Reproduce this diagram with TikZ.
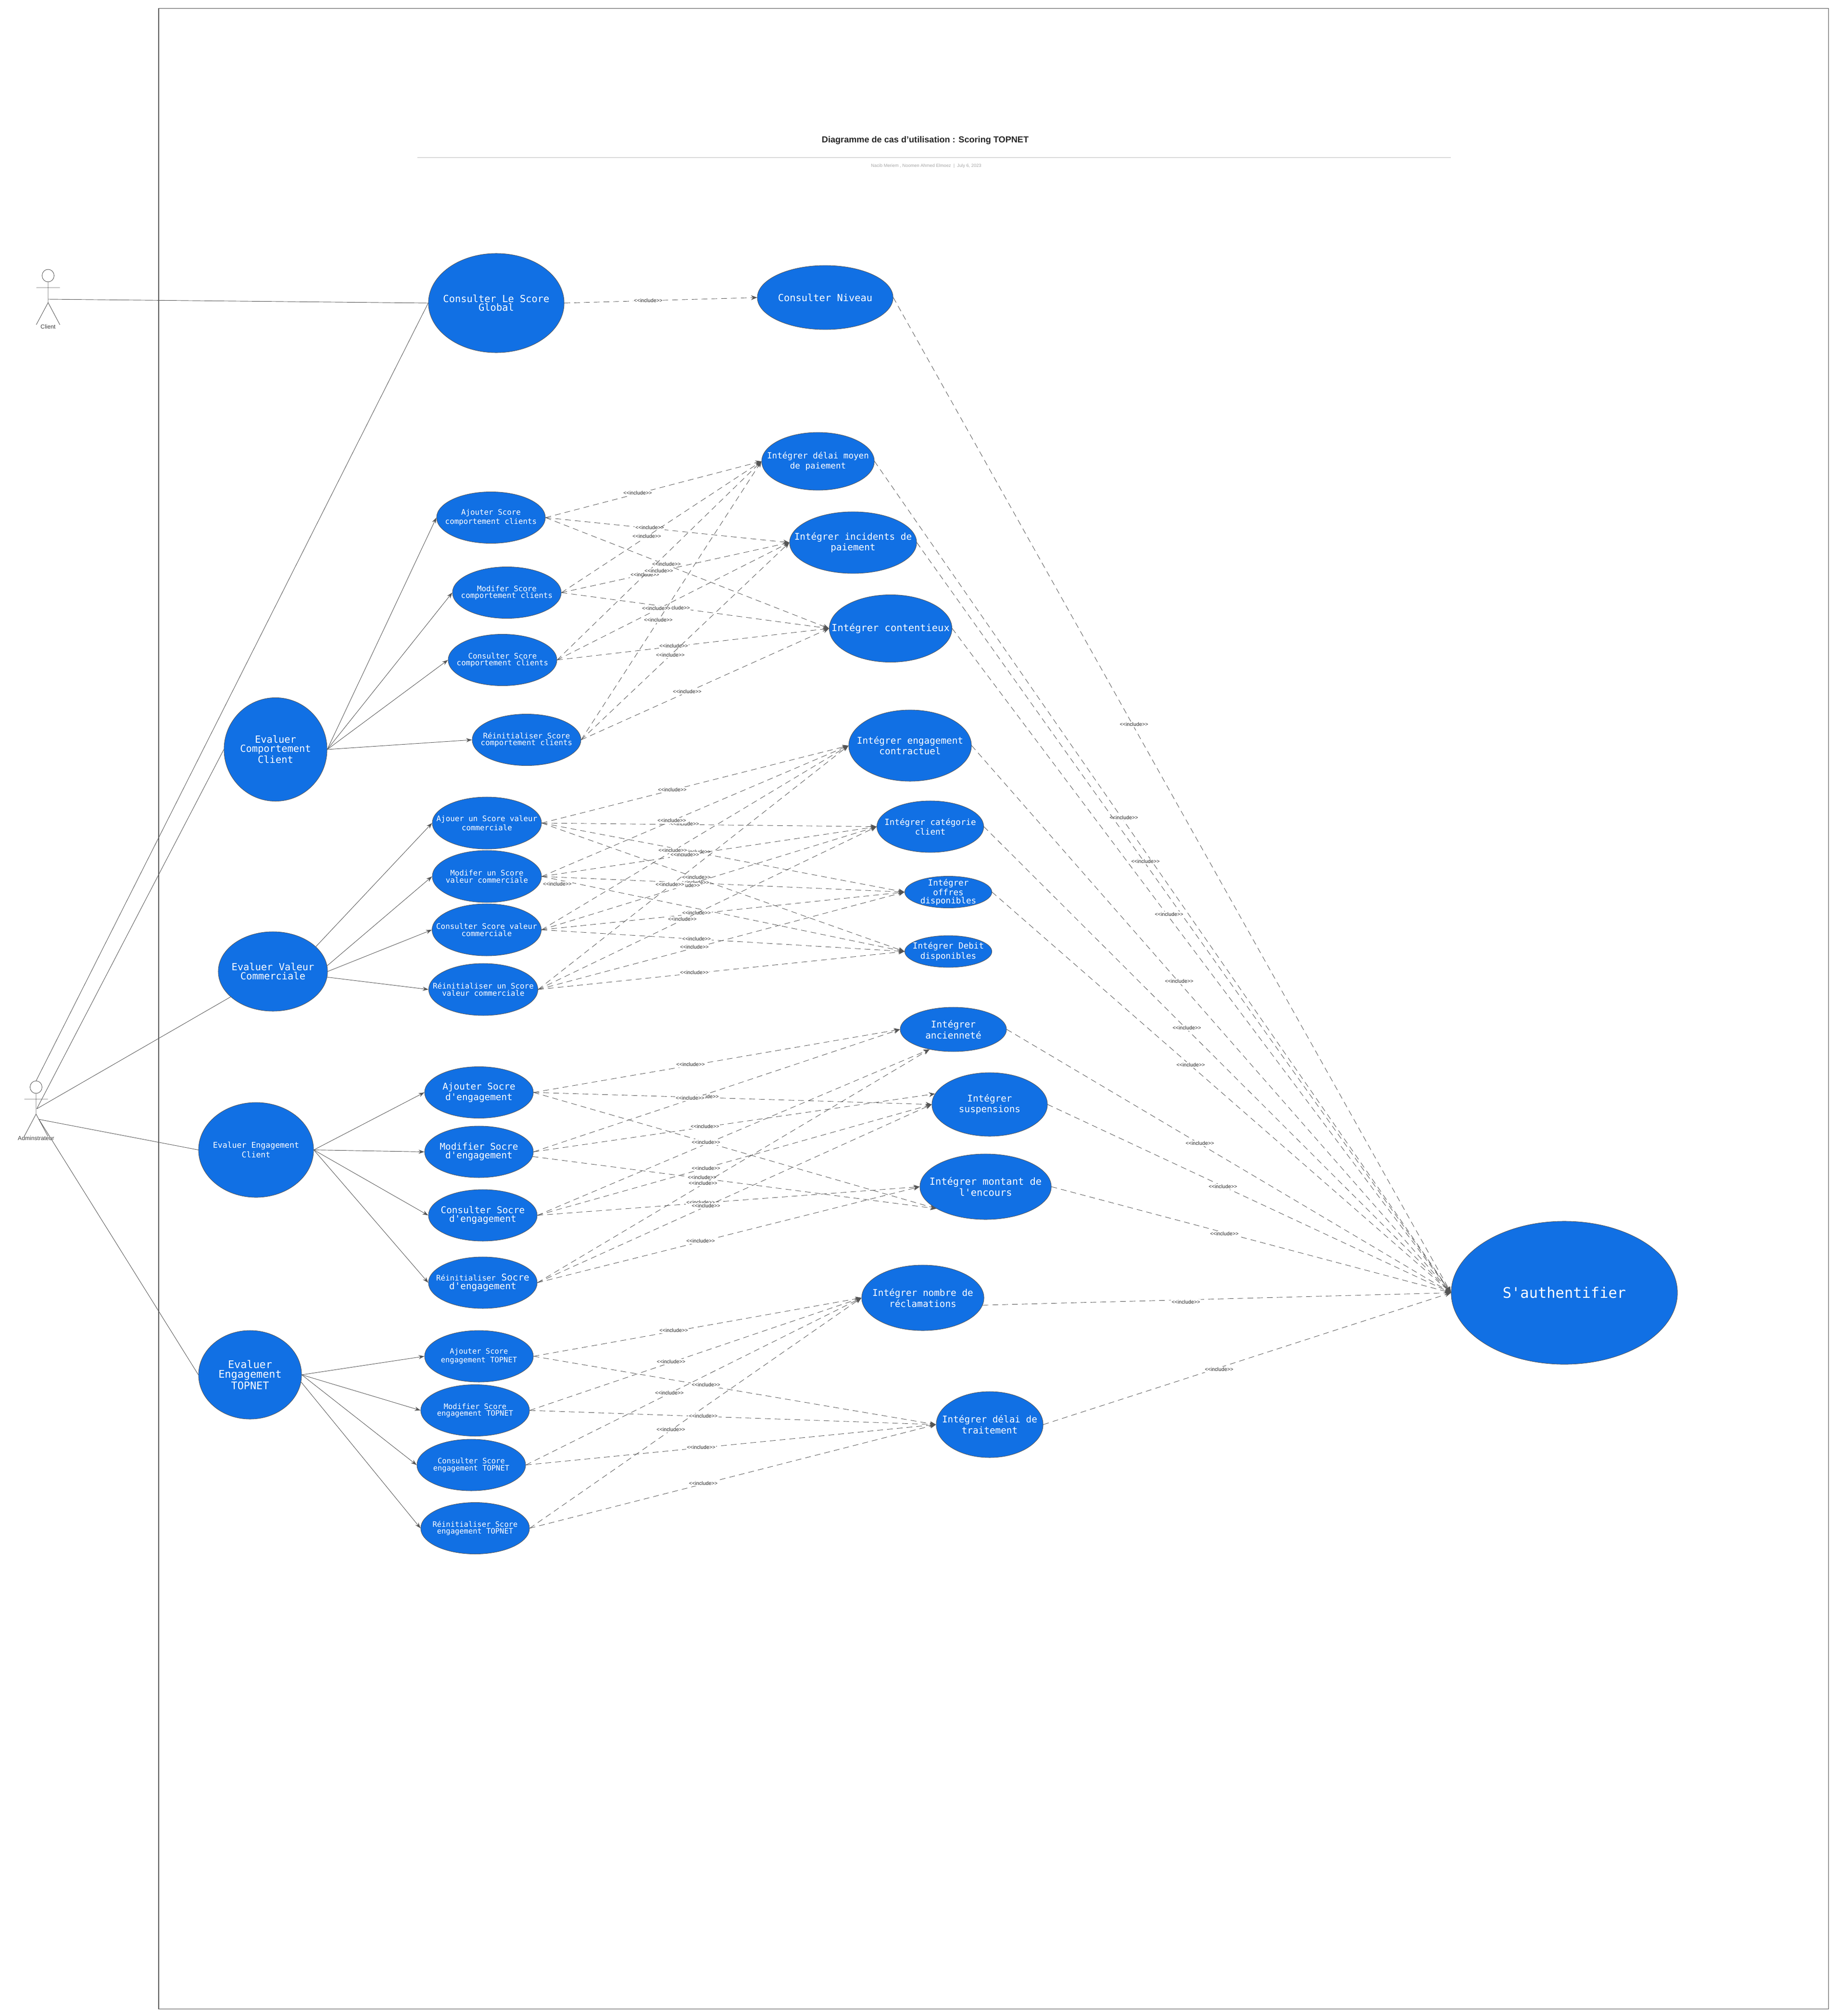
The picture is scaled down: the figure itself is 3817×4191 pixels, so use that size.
\documentclass[tikz,border=0pt]{standalone}
\usepackage{fontspec}
\setmainfont{Liberation Sans}
\setmonofont{DejaVu Sans Mono}
\usetikzlibrary{shapes.geometric,arrows.meta}
\definecolor{ucblue}{RGB}{17,112,228}
\definecolor{lnc}{RGB}{85,85,85}
\tikzset{
  ucase/.style={ellipse,draw=lnc,line width=0.25pt,fill=ucblue,inner sep=0pt},
  uctext/.style={text=white,align=center,inner sep=0pt},
  fa/.style={font=\fontsize{4.4}{4.1}\ttfamily\selectfont},
  fb/.style={font=\fontsize{4.5}{4.12}\ttfamily\selectfont},
  fc/.style={font=\fontsize{4.7}{4.12}\ttfamily\selectfont},
  fd/.style={font=\fontsize{5}{4.6}\ttfamily\selectfont},
  fe/.style={font=\fontsize{5.5}{5.15}\ttfamily\selectfont},
  ff/.style={font=\fontsize{5.8}{5.25}\ttfamily\selectfont},
  fg/.style={font=\fontsize{6.2}{5.7}\ttfamily\selectfont},
  fh/.style={font=\fontsize{8.65}{8}\ttfamily\selectfont},
  dep/.style={draw=lnc,line width=0.26pt,dash pattern=on 3.4pt off 2.4pt,-{Stealth[length=3.6pt,width=2.8pt]}},
  asc/.style={draw=lnc,line width=0.26pt,-{Stealth[length=3.4pt,width=2.4pt]}},
  act/.style={draw=lnc,line width=0.26pt},
  inclabel/.style={fill=white,inner sep=0.5pt,text=black!85,font=\fontsize{3.05}{3.4}\selectfont},
  actlabel/.style={inner sep=0pt,anchor=north,text=black!75,font=\fontsize{3.45}{4}\selectfont},
}
\newcounter{inclcnt}
% name, x, y, rx, ry, font style, text
\newcommand\ucase[7]{\node[ucase,minimum width=#4*0.02cm,minimum height=#5*0.02cm,
  label={[uctext,#6]center:{#7}}] (#1) at (#2,#3) {};}
% from, to, label x, label y
\newcommand\incl[4]{\stepcounter{inclcnt}\draw[dep] (#1) -- (#2);
  \node[inclabel] (lb\theinclcnt) at (#3,#4) {<{}<include>{}>};}
\newcommand\actor[4]{% prefix, x, head y, label
  \coordinate (#1h) at (#2,#3);
  \draw[act] (#1h) circle[x radius=12.5,y radius=13];
  \coordinate (#1n) at (#2,#3+13);
  \coordinate (#1w) at (#2,#3+56);
  \coordinate (#1l) at (#2-24.5,#3+25);
  \coordinate (#1r) at (#2+24.5,#3+25);
  \coordinate (#1fl) at (#2-24.5,#3+102);
  \coordinate (#1fr) at (#2+24.5,#3+102);
  \draw[act] (#1n) -- (#1w) (#1l) -- (#1r) (#1fl) -- (#1w) -- (#1fr);
  \node[actlabel] (#1lab) at (#2,#3+101) {#4};}
\begin{document}
\begin{tikzpicture}[x=0.01cm,y=-0.01cm]
\useasboundingbox (0,0) rectangle (3817,4191);
\node[draw=lnc,line width=0.3pt,inner sep=0pt,minimum width=34.70cm,minimum height=41.56cm] (frame) at (2066,2097) {};
\node[inner sep=0pt,text=black!85,font=\fontsize{5.15}{6}\bfseries\selectfont] (title) at (1924,292) {Diagramme de cas d'utilisation : Scoring TOPNET};
\coordinate (ruleL) at (868,327);
\coordinate (ruleR) at (3017,327);
\draw[draw=black!25,line width=0.25pt] (ruleL) -- (ruleR);
\node[inner sep=0pt,text=black!35,font=\fontsize{2.65}{3.2}\selectfont] (subtitle) at (1926,345) {Nacib Meriem , Noomen Ahmed Elmoez\ \ |\ \ July 6, 2023};

\actor{cl}{100}{573}{Client}
\actor{ad}{75}{2260}{Adminstrateur}
\coordinate (clS) at (100,622);
\coordinate (adS) at (76.5,2305);
\coordinate (adT) at (75,2247);
\coordinate (adB) at (81,2327);

% use cases
\ucase{glob}{1032}{630}{141}{103}{ff}{Consulter Le Score\\Global}
\ucase{niv}{1716}{618.5}{141}{66.5}{ff}{Consulter Niveau}
\ucase{auth}{3253}{2687.5}{235}{148.5}{fh}{S'authentifier}

\ucase{evc}{573}{1558}{107}{107.5}{ff}{Evaluer\\Comportement\\Client}
\ucase{evv}{567.5}{2019.5}{113.5}{82.5}{ff}{Evaluer Valeur\\Commerciale}
\ucase{eve}{532.5}{2390.5}{119.5}{98.5}{fc}{Evaluer Engagement\\Client}
\ucase{evt}{520}{2858}{107}{92}{fg}{Evaluer\\Engagement\\TOPNET}

\ucase{ca}{1021}{1076}{113}{53.5}{fb}{Ajouter Score\\comportement clients}
\ucase{cm}{1054}{1232}{113}{53.5}{fb}{Modifer Score\\comportement clients}
\ucase{cc}{1045}{1372}{113}{53.5}{fb}{Consulter Score\\comportement clients}
\ucase{cr}{1095}{1538}{113}{53.5}{fb}{Réinitialiser Score\\comportement clients}

\ucase{va}{1012.5}{1711}{113.5}{54}{fb}{Ajouer un Score valeur\\commerciale}
\ucase{vm}{1012.5}{1822}{113.5}{54}{fb}{Modifer un Score\\valeur commerciale}
\ucase{vc}{1012}{1933}{113.5}{54}{fb}{Consulter Score valeur\\commerciale}
\ucase{vr}{1005}{2057}{113.5}{54}{fb}{Réinitialiser un Score\\valeur commerciale}

\ucase{sa}{996}{2271}{113}{53.5}{fe}{Ajouter Socre\\d'engagement}
\ucase{sm}{996}{2394.5}{113}{53.5}{fe}{Modifier Socre\\d'engagement}
\ucase{sc}{1004}{2526.5}{113}{53.5}{fe}{Consulter Socre\\d'engagement}
\ucase{sr}{1004}{2666.5}{113}{53.5}{fe}{{\fontsize{4.5}{5}\selectfont Réinitialiser} Socre\\d'engagement}

\ucase{ta}{996}{2819.5}{113}{53.5}{fa}{Ajouter Score\\engagement TOPNET}
\ucase{tm}{988}{2932}{113}{53.5}{fa}{Modifier Score\\engagement TOPNET}
\ucase{tc}{980}{3045.5}{113}{53.5}{fa}{Consulter Score\\engagement TOPNET}
\ucase{tr}{988}{3177}{113}{53.5}{fa}{Réinitialiser Score\\engagement TOPNET}

\ucase{idm}{1701}{959}{117}{60}{fd}{Intégrer délai moyen\\de paiement}
\ucase{iip}{1774}{1128}{132}{64}{fe}{Intégrer incidents de\\paiement}
\ucase{ico}{1852}{1306.5}{127.5}{70}{ff}{Intégrer contentieux}
\ucase{iec}{1892.5}{1550}{127.5}{74}{fe}{Intégrer engagement\\contractuel}
\ucase{icc}{1934.5}{1718.5}{111}{53.5}{fd}{Intégrer catégorie\\client}
\ucase{iof}{1972}{1854.5}{90.5}{33}{fd}{Intégrer\\offres\\disponibles}
\ucase{ide}{1972}{1978}{90.5}{33}{fd}{Intégrer Debit\\disponibles}
\ucase{ian}{1982.5}{2140}{110.5}{46}{fe}{Intégrer\\ancienneté}
\ucase{isu}{2058}{2296}{120}{66}{fe}{Intégrer\\suspensions}
\ucase{imo}{2049.5}{2467}{136.5}{68}{ff}{Intégrer montant de\\l'encours}
\ucase{inr}{1919}{2698}{127}{68}{fe}{Intégrer nombre de\\réclamations}
\ucase{idt}{2058}{2961.5}{111}{68.5}{fe}{Intégrer délai de\\traitement}

% actor associations
\draw[act] (clS) -- (glob.west);
\draw[act] (adT) -- (glob.west);
\draw[act] (adS) -- (evc.west);
\draw[act] (adS) -- (evv.211);
\draw[act] (adB) -- (eve.west);
\draw[act] (adB) -- (evt.west);

% parent to child
\draw[asc] (evc.east) -- (ca.west);
\draw[asc] (evc.east) -- (cm.west);
\draw[asc] (evc.east) -- (cc.west);
\draw[asc] (evc.east) -- (cr.west);
\draw[asc] (evv.30) -- (va.west);
\draw[asc] (evv.6) -- (vm.west);
\draw[asc] (evv.east) -- (vc.west);
\draw[asc] (evv.-6) -- (vr.west);
\draw[asc] (eve.east) -- (sa.west);
\draw[asc] (eve.east) -- (sm.west);
\draw[asc] (eve.east) -- (sc.west);
\draw[asc] (eve.east) -- (sr.west);
\draw[asc] (evt.east) -- (ta.west);
\draw[asc] (evt.east) -- (tm.west);
\draw[asc] (evt.east) -- (tc.west);
\draw[asc] (evt.-8) -- (tr.west);

% includes
\incl{glob.east}{niv.west}{1348}{625}

\incl{ca.east}{idm.west}{1326}{1025}
\incl{ca.east}{iip.west}{1351}{1097}
\incl{ca.east}{ico.west}{1386}{1173}
\incl{cm.east}{idm.west}{1345}{1115}
\incl{cm.east}{iip.west}{1341}{1195}
\incl{cm.east}{ico.west}{1405}{1264}
\incl{cc.east}{idm.west}{1370}{1187}
\incl{cc.east}{iip.west}{1365}{1265}
\incl{cc.east}{ico.west}{1401}{1343}
\incl{cr.east}{idm.west}{1369}{1289}
\incl{cr.east}{iip.west}{1394}{1362}
\incl{cr.east}{ico.west}{1429}{1438}

\incl{va.east}{iec.west}{1398}{1641.5}
\incl{va.east}{icc.west}{1424}{1713}
\incl{va.east}{iof.west}{1448.5}{1771}
\incl{va.east}{ide.west}{1448}{1824}
\incl{vm.east}{iec.west}{1397}{1706}
\incl{vm.east}{icc.west}{1424}{1777}
\incl{vm.east}{iof.west}{1445}{1835}
\incl{vm.east}{ide.west}{1159}{1838}
\incl{vc.east}{iec.west}{1399}{1768}
\incl{vc.east}{icc.west}{1426}{1841}
\incl{vc.east}{iof.west}{1448.5}{1898}
\incl{vc.east}{ide.west}{1448.5}{1952}
\incl{vr.east}{iec.west}{1393}{1839}
\incl{vr.east}{icc.west}{1419}{1911}
\incl{vr.east}{iof.west}{1444}{1969}
\incl{vr.east}{ide.west}{1444}{2022}

\incl{sa.east}{ian.west}{1436}{2213}
\incl{sa.east}{isu.west}{1465}{2280}
\incl{sa.east}{imo.204}{1468}{2374}
\incl{sm.east}{ian.west}{1435}{2283}
\incl{sm.east}{isu.169}{1466}{2341.5}
\incl{sm.-5}{imo.204}{1460}{2448}
\incl{sc.east}{ian.220}{1468}{2375}
\incl{sc.east}{isu.west}{1468}{2429}
\incl{sc.east}{imo.west}{1457}{2500}
\incl{sr.east}{ian.220}{1462}{2460}
\incl{sr.east}{isu.west}{1468}{2507}
\incl{sr.east}{imo.west}{1457}{2580}

\incl{ta.east}{inr.west}{1401}{2766}
\incl{tm.east}{inr.west}{1395.5}{2831}
\incl{tc.east}{inr.west}{1392}{2895.5}
\incl{tr.east}{inr.west}{1395}{2972}
\incl{ta.east}{idt.west}{1468}{2879}
\incl{tm.east}{idt.west}{1462.5}{2943.6}
\incl{tc.east}{idt.west}{1458}{3008.7}
\incl{tr.east}{idt.west}{1462.5}{3083.7}

\incl{niv.east}{auth.west}{2358}{1506}
\incl{idm.east}{auth.west}{2337}{1700}
\incl{iip.east}{auth.west}{2382}{1791}
\incl{ico.east}{auth.west}{2431}{1901}
\incl{iec.east}{auth.west}{2452}{2040}
\incl{icc.east}{auth.west}{2468}{2137}
\incl{iof.east}{auth.west}{2476}{2214}
\incl{ian.east}{auth.west}{2495}{2377}
\incl{isu.east}{auth.west}{2543}{2467}
\incl{imo.east}{auth.west}{2546}{2565}
\incl{inr.-7}{auth.west}{2466}{2707}
\incl{idt.east}{auth.west}{2535}{2847}
\end{tikzpicture}
\end{document}
